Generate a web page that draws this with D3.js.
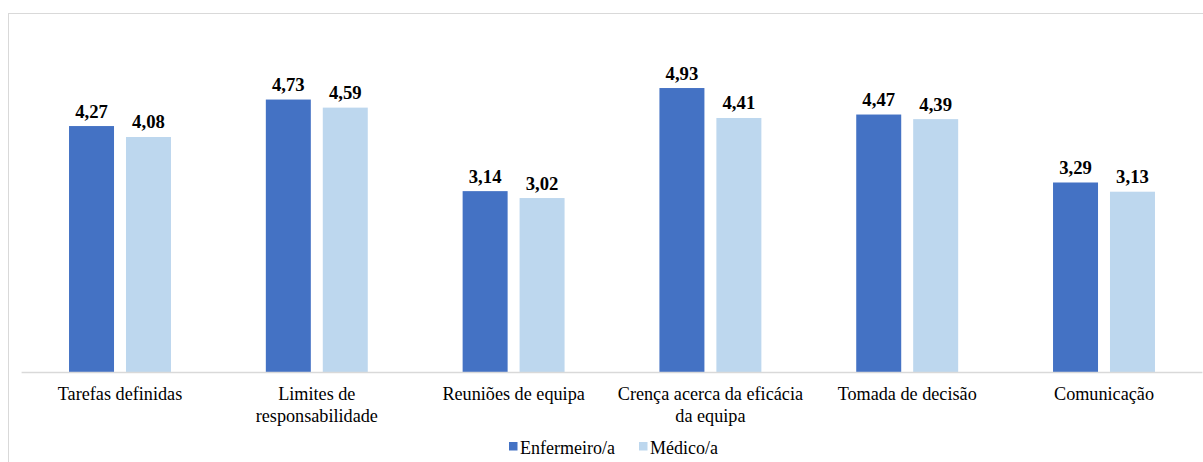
<!DOCTYPE html>
<html>
<head>
<meta charset="utf-8">
<script src="https://cdn.jsdelivr.net/npm/d3@7"></script>
<style>
  html, body { margin: 0; padding: 0; background: #ffffff; }
  svg { display: block; }
</style>
</head>
<body>
<svg id="chart" width="1203" height="462"></svg>
<script>
// Mean scores per dimension, by professional group
const categories = [
  "Tarefas definidas",
  "Limites de responsabilidade",
  "Reuniões de equipa",
  "Crença acerca da eficácia da equipa",
  "Tomada de decisão",
  "Comunicação"
];
const seriesNames = ["Enfermeiro/a", "Médico/a"];
const enfermeiro = [4.27, 4.73, 3.14, 4.93, 4.47, 3.29];
const medico = [4.08, 4.59, 3.02, 4.41, 4.39, 3.13];
const seriesColors = ["#4472C4", "#BDD7EE"];

const FONT = "'Liberation Serif'";

const svg = d3.select("#chart");
const W = 1203, H = 462;

// Outer chart frame
svg.append("rect")
  .attr("x", 8.5).attr("y", 13.5)
  .attr("width", W).attr("height", H)
  .attr("fill", "#fff").attr("stroke", "#d9d9d9").attr("stroke-width", 1);

const plot = { left: 21.6, right: 1202.4, top: 26.4, bottom: 372 };

const x0 = d3.scaleBand()
  .domain(categories)
  .range([plot.left, plot.right])
  .paddingInner(0.482).paddingOuter(0.241);

const x1 = d3.scaleBand()
  .domain(seriesNames)
  .range([0, x0.bandwidth()])
  .paddingInner(0.21);

const y = d3.scaleLinear().domain([0, 6]).range([plot.bottom, plot.top]);

const rows = categories.map((c, i) => ({
  cat: c,
  vals: [
    { s: seriesNames[0], v: enfermeiro[i], color: seriesColors[0] },
    { s: seriesNames[1], v: medico[i], color: seriesColors[1] }
  ]
}));

const fmt = v => d3.format(".2f")(v).replace(".", ",");

const groups = svg.append("g").selectAll("g")
  .data(rows).join("g")
  .attr("transform", d => `translate(${x0(d.cat)},0)`);

groups.selectAll("rect")
  .data(d => d.vals).join("rect")
  .attr("x", d => x1(d.s))
  .attr("width", x1.bandwidth())
  .attr("y", d => y(d.v))
  .attr("height", d => y(0) - y(d.v))
  .attr("fill", d => d.color);

groups.selectAll("text.val")
  .data(d => d.vals).join("text")
  .attr("class", "val")
  .attr("x", d => x1(d.s) + x1.bandwidth() / 2)
  .attr("y", d => y(d.v) - 8.5)
  .attr("text-anchor", "middle")
  .style("font-family", FONT)
  .style("font-size", "18.7px")
  .style("font-weight", "bold")
  .style("fill", "#000")
  .text(d => fmt(d.v));

// Category axis line
svg.append("line")
  .attr("x1", plot.left).attr("x2", plot.right)
  .attr("y1", plot.bottom + 0.5).attr("y2", plot.bottom + 0.5)
  .attr("stroke", "#d9d9d9").attr("stroke-width", 1.3);

// Category labels, word-wrapped to the band step
const labelSize = "18.2px";
const labels = svg.append("g");
categories.forEach(cat => {
  const cx = x0(cat) + x0.bandwidth() / 2;
  const maxW = x0.step() - 4;
  const probe = labels.append("text")
    .style("font-family", FONT).style("font-size", labelSize);
  const words = cat.split(" ");
  let lines = [], line = [];
  words.forEach(w => {
    probe.text(line.concat([w]).join(" "));
    if (probe.node().getComputedTextLength() > maxW && line.length) {
      lines.push(line.join(" "));
      line = [w];
    } else {
      line.push(w);
    }
  });
  lines.push(line.join(" "));
  probe.remove();
  lines.forEach((l, i) => {
    labels.append("text")
      .attr("x", cx)
      .attr("y", plot.bottom + 28 + i * 21.5)
      .attr("text-anchor", "middle")
      .style("font-family", FONT)
      .style("font-size", labelSize)
      .style("fill", "#000")
      .text(l);
  });
});

// Legend
const legendItems = [
  { name: seriesNames[0], color: seriesColors[0], x: 509 },
  { name: seriesNames[1], color: seriesColors[1], x: 639 }
];
const lg = svg.append("g");
legendItems.forEach(it => {
  lg.append("rect")
    .attr("x", it.x).attr("y", 442)
    .attr("width", 8.5).attr("height", 8.5)
    .attr("fill", it.color);
  lg.append("text")
    .attr("x", it.x + 11).attr("y", 453.5)
    .style("font-family", FONT)
    .style("font-size", "18px")
    .style("fill", "#000")
    .text(it.name);
});
</script>
</body>
</html>
